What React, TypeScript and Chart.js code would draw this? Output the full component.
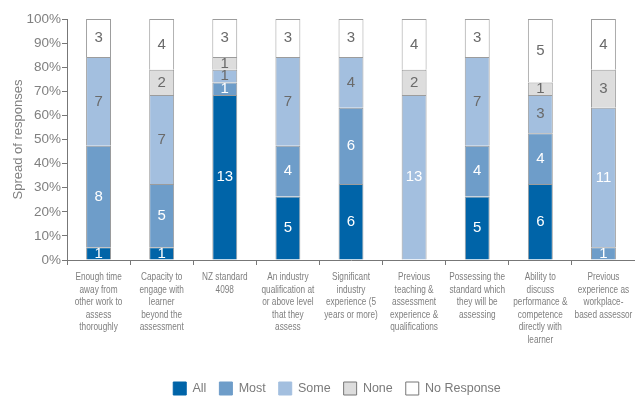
import React, { useEffect, useRef } from "react";
import { Chart, registerables } from "chart.js";

Chart.register(...registerables);

const categories: string[][] = [
  ["Enough time", "away from", "other work to", "assess", "thoroughly"],
  ["Capacity to", "engage with", "learner", "beyond the", "assessment"],
  ["NZ standard", "4098"],
  ["An industry", "qualification at", "or above level", "that they", "assess"],
  ["Significant", "industry", "experience (5", "years or more)"],
  ["Previous", "teaching &", "assessment", "experience &", "qualifications"],
  ["Possessing the", "standard which", "they will be", "assessing"],
  ["Ability to", "discuss", "performance &", "competence", "directly with", "learner"],
  ["Previous", "experience as", "workplace-", "based assessor"],
];

const allValues = [1, 1, 13, 5, 6, 0, 5, 6, 0];
const mostValues = [8, 5, 1, 4, 6, 0, 4, 4, 1];
const someValues = [7, 7, 1, 7, 4, 13, 7, 3, 11];
const noneValues = [0, 2, 1, 0, 0, 2, 0, 1, 3];
const noResponseValues = [3, 4, 3, 3, 3, 4, 3, 5, 4];

const seriesNames = ["All", "Most", "Some", "None", "No Response"];
const yTicks = [0, 10, 20, 30, 40, 50, 60, 70, 80, 90, 100];

const FONT = "'Liberation Sans', Arial, sans-serif";

export default function App() {
  const ref = useRef<HTMLCanvasElement>(null);
  useEffect(() => {
    document.body.style.margin = "0";
    const raw = [allValues, mostValues, someValues, noneValues, noResponseValues];
    const totals = categories.map((_, i) => raw.reduce((s, a) => s + a[i], 0));
    const pct = raw.map((arr) => arr.map((v, i) => (v / totals[i]) * 100));
    const colors = ["#0064a8", "#6e9dc9", "#a3bfdf", "#dddddd", "#ffffff"];
    const labelColors = (ds: number, v: number) => {
      if (ds === 0 || ds === 1) return "#ffffff";
      if (ds === 2) return v >= 10 ? "#ffffff" : "#6a6a6a";
      return "#6a6a6a";
    };
    const labelPlugin = {
      id: "segLabels",
      afterDatasetsDraw(chart: any) {
        const ctx = chart.ctx;
        ctx.save();
        ctx.font = `15px ${FONT}`;
        ctx.textAlign = "center";
        ctx.textBaseline = "middle";
        chart.data.datasets.forEach((_: any, di: number) => {
          const meta = chart.getDatasetMeta(di);
          meta.data.forEach((bar: any, i: number) => {
            const v = raw[di][i];
            if (!v) return;
            ctx.fillStyle = labelColors(di, v);
            ctx.fillText(String(v), bar.x, (bar.y + bar.base) / 2);
          });
        });
        ctx.restore();
      },
    };
    const xLabelPlugin = {
      id: "xLabels",
      afterLayout(chart: any) {
        const lg = chart.legend;
        if (lg) {
          lg.left += 15;
          lg.right += 15;
        }
      },
      afterDraw(chart: any) {
        const ctx = chart.ctx;
        const xs = chart.scales.x;
        const bottom = chart.chartArea.bottom;
        ctx.save();
        ctx.font = `11px ${FONT}`;
        ctx.fillStyle = "#7f7f7f";
        ctx.textAlign = "center";
        ctx.textBaseline = "middle";
        categories.forEach((lines, i) => {
          const cx = xs.getPixelForValue(i);
          lines.forEach((line, k) => {
            ctx.save();
            ctx.translate(cx, bottom + 16.9 + k * 12.6);
            ctx.scale(0.75, 1);
            ctx.fillText(line, 0, 0);
            ctx.restore();
          });
        });
        ctx.restore();
      },
    };
    const chart = new Chart(ref.current!, {
      type: "bar",
      data: {
        labels: categories,
        datasets: seriesNames.map((name, i) => ({
          label: name,
          data: pct[i],
          backgroundColor: colors[i],
          borderColor: "#9c9c9c",
          borderWidth: 1,
          barPercentage: 0.79,
          categoryPercentage: 0.5,
        })),
      },
      options: {
        responsive: false,
        animation: false,
        layout: { padding: { top: 19, right: -1, left: 8, bottom: 0 } },
        plugins: {
          legend: {
            position: "bottom",
            maxHeight: 29,
            labels: {
              boxWidth: 13,
              boxHeight: 13,
              color: "#7a7a7a",
              font: { family: FONT, size: 12.5 },
              padding: 13,
              generateLabels: (c: any) =>
                c.data.datasets.map((d: any, i: number) => ({
                  text: d.label,
                  fillStyle: colors[i],
                  strokeStyle: i < 3 ? colors[i] : "#777777",
                  lineWidth: 1,
                  fontColor: "#7a7a7a",
                  datasetIndex: i,
                })),
            },
          },
          tooltip: { enabled: false },
        },
        scales: {
          x: {
            stacked: true,
            grid: { display: true, drawOnChartArea: false, drawTicks: true, tickLength: 5, color: "#777" },
            border: { display: true, color: "#777" },
            ticks: { display: false, autoSkip: false },
            afterFit: (s: any) => {
              s.height = 109;
            },
          },
          y: {
            stacked: true,
            min: 0,
            max: 100,
            afterBuildTicks: (s: any) => {
              s.ticks = yTicks.map((v) => ({ value: v }));
            },
            grid: { display: true, drawOnChartArea: false, drawTicks: true, tickLength: 5, color: "#777" },
            border: { display: true, color: "#777" },
            ticks: {
              color: "#808080",
              font: { family: FONT, size: 13.5 },
              padding: 1,
              callback: (v: any) => `${v}%`,
            },
            title: {
              display: true,
              text: "Spread of responses",
              color: "#808080",
              font: { family: FONT, size: 13 },
              padding: 3,
            },
            afterFit: (s: any) => {
              s.width = 59;
            },
          },
        },
      },
      plugins: [labelPlugin, xLabelPlugin],
    } as any);
    return () => chart.destroy();
  }, []);
  return (
    <div style={{ position: "fixed", left: 0, top: 0, width: 635, height: 398, background: "#fff" }}>
      <canvas ref={ref} width={635} height={398} style={{ width: 635, height: 398 }} />
    </div>
  );
}
